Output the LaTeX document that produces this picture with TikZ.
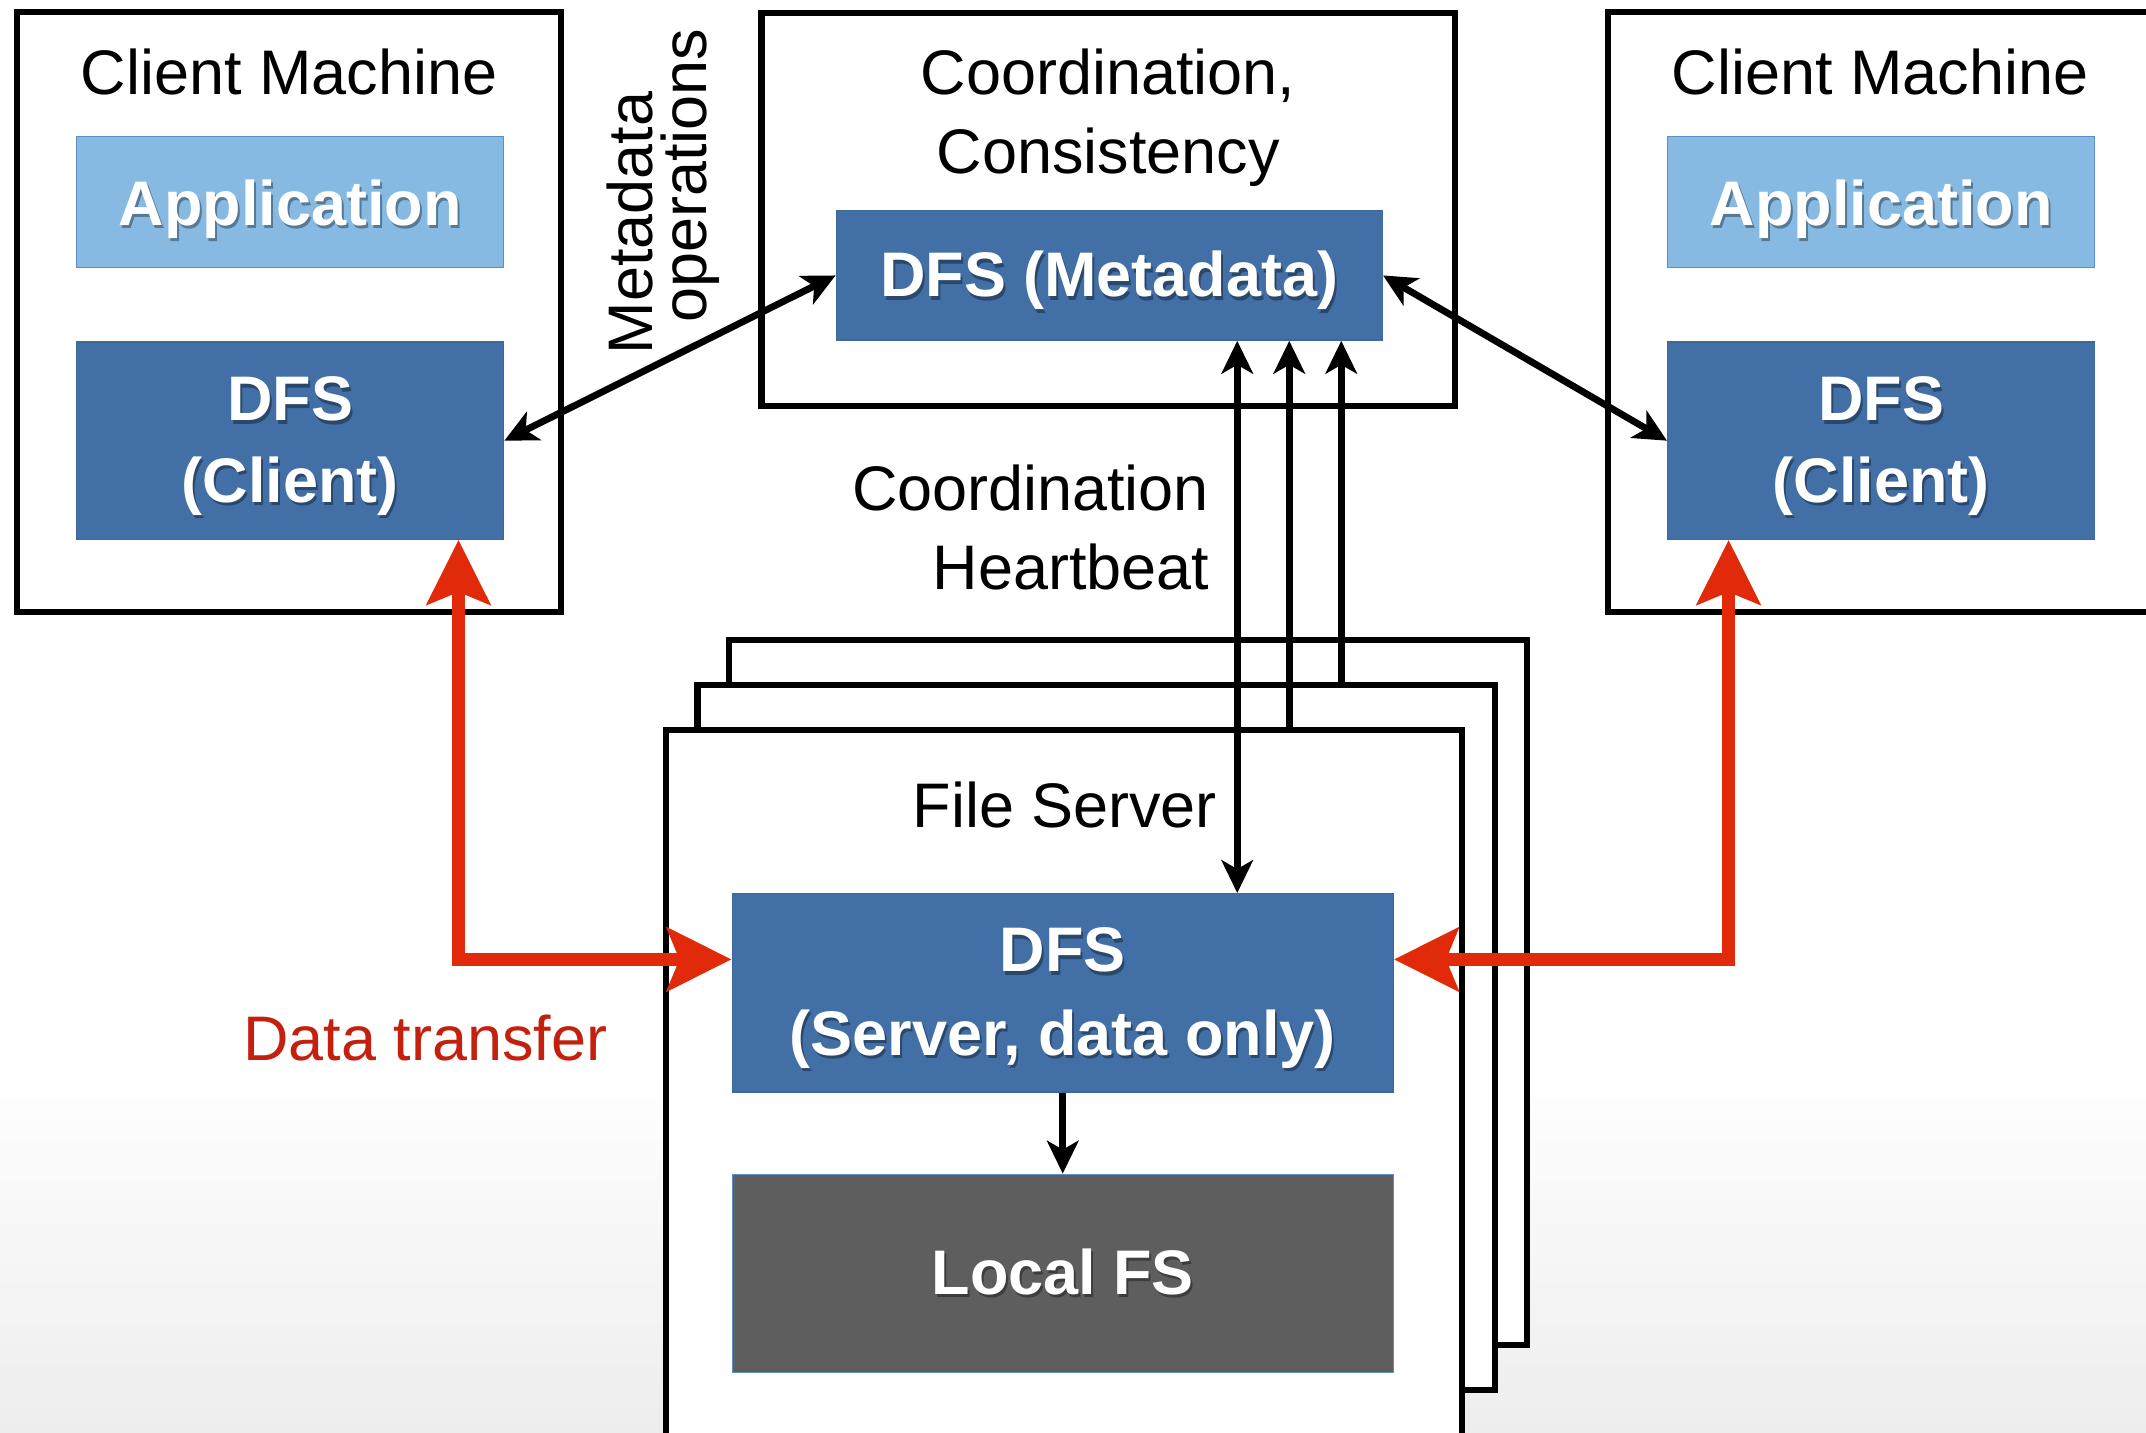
\documentclass[tikz,border=0pt]{standalone}
\usepackage{fontspec}
\setmainfont{Liberation Sans}
\usetikzlibrary{arrows.meta,calc}
\definecolor{appblue}{HTML}{86BAE3}
\definecolor{appedge}{HTML}{5A8FC8}
\definecolor{dfsblue}{HTML}{4270A6}
\definecolor{dfsedge}{HTML}{3D6899}
\definecolor{lfsgray}{HTML}{5E5E5E}
\definecolor{redarr}{HTML}{E12A0A}
\definecolor{redtxt}{HTML}{C4200F}
\newcommand\dfont{\fontsize{46}{58}\selectfont}
\newcommand\wlabel[3]{%
  \node[btxtsh,anchor=base] (#1sh) at ($(#2)+(1.5,2.5)$) {#3};
  \node[btxt,anchor=base] (#1) at (#2) {#3};}
\begin{document}
\begin{tikzpicture}[x=1pt,y=-1pt,
  frame/.style={draw=black, line width=4.5pt, fill=white, inner sep=0pt, line join=miter},
  appbox/.style={draw=appedge, line width=1pt, fill=appblue, inner sep=0pt, minimum width=312pt, minimum height=96pt},
  dfsbox/.style={draw=dfsedge, line width=1pt, fill=dfsblue, inner sep=0pt, minimum width=312pt, minimum height=144pt},
  lfsbox/.style={draw=appedge, line width=1pt, fill=lfsgray, inner sep=0pt, minimum width=483pt, minimum height=144.6pt},
  rtxt/.style={font=\dfont, inner sep=0pt, text=black},
  btxt/.style={font=\dfont\bfseries, inner sep=0pt, text=white},
  btxtsh/.style={font=\dfont\bfseries, inner sep=0pt, text=black, text opacity=0.35},
  blk/.style={draw=black, line width=5pt, arrows={Stealth[length=24pt,width=23pt,inset=6.5pt]-Stealth[length=24pt,width=23pt,inset=6.5pt]}},
  blkone/.style={draw=black, line width=5pt},
  bt/.style={-{Stealth[length=24pt,width=23pt,inset=6.5pt]}},
  tb/.style={{Stealth[length=24pt,width=23pt,inset=6.5pt]}-},
  redline/.style={draw=redarr, line width=10pt, line join=miter,
    arrows={Stealth[length=47pt,width=46pt,inset=9pt]-Stealth[length=47pt,width=46pt,inset=9pt]}}
]
\useasboundingbox (0,0) rectangle (1568,1047);
\clip (0,0) rectangle (1568,1047);
\fill[white] (0,0) rectangle (1568,1047);
\shade[top color=white, bottom color=black!7] (0,780) rectangle (1568,1047);

% outer frames
\node[frame, minimum width=397.7pt, minimum height=438.3pt] (cm1) at (211.2,227.9) {};
\node[frame, minimum width=397.7pt, minimum height=438.3pt] (cm2) at (1373.7,227.9) {};
\node[frame, minimum width=506.6pt, minimum height=287pt] (coord) at (809.7,153.3) {};
\node[frame, minimum width=583pt, minimum height=515pt] (fsBack) at (824.25,725.1) {};
\node[frame, minimum width=583pt, minimum height=515.2pt] (fsMid) at (801.1,758.1) {};
\node[frame, minimum width=582pt, minimum height=526.5pt] (fsFront) at (777.4,796.75) {};

% inner boxes
\node[appbox] (app1) at (212,147.6) {};
\node[dfsbox] (dfsC1) at (212,322) {};
\node[appbox] (app2) at (1374.5,147.6) {};
\node[dfsbox] (dfsC2) at (1374.5,322) {};
\node[dfsbox, minimum width=399pt, minimum height=94.5pt] (meta) at (810.5,201.25) {};
\node[dfsbox, minimum width=483pt, minimum height=145pt] (dfsS) at (776.5,725.5) {};
\node[lfsbox] (lfs) at (776.5,930.3) {};

% texts
\node[rtxt,anchor=base] (cmt1) at (211.2,69.4) {Client Machine};
\node[rtxt,anchor=base] (cmt2) at (1373.7,69.4) {Client Machine};
\wlabel{appt1}{212,164.7}{Application}
\wlabel{appt2}{1374.5,164.7}{Application}
\wlabel{dfsta}{212,307.6}{DFS}
\wlabel{dfstb}{212,366.8}{(Client)}
\wlabel{dfstc}{1374.5,307.6}{DFS}
\wlabel{dfstd}{1374.5,366.8}{(Client)}
\node[rtxt,anchor=base] (coordt1) at (809.7,69) {Coordination,};
\node[rtxt,anchor=base] (coordt2) at (809.7,127) {Consistency};
\wlabel{metat}{810.5,217}{DFS (Metadata)}
\node[rtxt,anchor=base east] (hb1) at (883.6,372.8) {Coordination};
\node[rtxt,anchor=base east] (hb2) at (883.6,431) {Heartbeat};
\node[rtxt,anchor=base] (fst) at (778,604.8) {File Server};
\wlabel{dfsSa}{776.5,710}{DFS}
\wlabel{dfsSb}{776.5,771}{(Server, data only)}
\wlabel{lfst}{776.5,945.6}{Local FS}
\node[rtxt,anchor=base,text=redtxt] (dtt) at (310.6,774.6) {Data transfer};
\node[rtxt,anchor=base,rotate=90] (mo1) at (477,163) {Metadata};
\node[rtxt,anchor=base,rotate=90] (mo2) at (516,128.5) {operations};

% black connectors
\draw[blk] (dfsC1.east) -- (meta.west);
\draw[blk] (meta.east) -- (dfsC2.west);
\draw[blk] ([xshift=93.5pt]meta.south) -- ([xshift=93.5pt]meta.south |- dfsS.north);
\draw[blkone,tb] ([xshift=131.5pt]meta.south) -- ([xshift=131.5pt]meta.south |- fsFront.north);
\draw[blkone,tb] ([xshift=169.5pt]meta.south) -- ([xshift=169.5pt]meta.south |- fsMid.north);
\draw[blkone,bt] (dfsS.south) -- (lfs.north);

% red data transfer connectors
\draw[redline] ([xshift=123pt]dfsC1.south) |- ([yshift=24.5pt]dfsS.west);
\draw[redline] ([xshift=-111.5pt]dfsC2.south) |- ([yshift=24.5pt]dfsS.east);
\end{tikzpicture}
\end{document}
